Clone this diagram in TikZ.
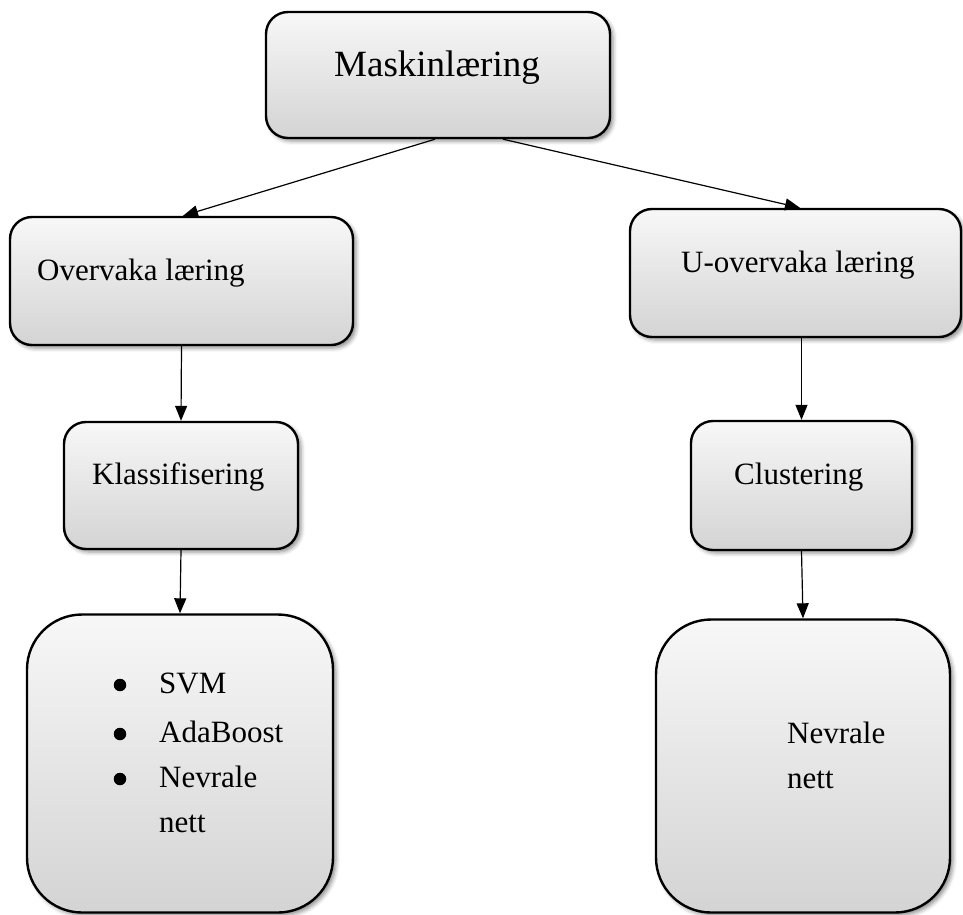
\documentclass[tikz,border=0pt]{standalone}
\usepackage{fontspec}
\setmainfont{Liberation Serif}
\usetikzlibrary{arrows.meta,shadows.blur}
\begin{document}
\begin{tikzpicture}[x=1pt,y=-1pt,
  box/.style={draw=black,line width=2.4pt,rounded corners=22pt,
    top color=white!97!black,bottom color=black!17,
    blur shadow={shadow xshift=3pt,shadow yshift=-3pt,shadow blur radius=4pt,shadow opacity=45},
    inner sep=0pt},
  bigbox/.style={box,rounded corners=55pt},
  txt/.style={font=\fontsize{31}{37}\selectfont,inner sep=0pt,anchor=base west},
  bul/.style={circle,fill=black,inner sep=0pt,minimum size=12.5pt},
  arr/.style={line width=1.2pt,-{Triangle[length=15pt,width=12pt]}}]
\useasboundingbox (0,0) rectangle (963,914);
% boxes
\node[box,minimum width=344pt,minimum height=126pt] (M) at (438,75) {};
\node[box,minimum width=343pt,minimum height=128pt] (O) at (181.5,281) {};
\node[box,minimum width=331pt,minimum height=128pt] (U) at (795.5,273) {};
\node[box,minimum width=234pt,minimum height=127pt] (K) at (181,485.5) {};
\node[box,minimum width=221pt,minimum height=129pt] (C) at (801.5,485.5) {};
\node[bigbox,minimum width=306pt,minimum height=298pt] (BL) at (180,763.5) {};
\node[bigbox,minimum width=294pt,minimum height=293pt] (BR) at (803,766) {};
% texts
\node[font=\fontsize{37}{44}\selectfont,inner sep=0pt,anchor=base] (tM) at (437,76) {Maskinlæring};
\node[txt] (tO) at (37,280) {Overvaka læring};
\node[txt] (tU) at (681,272) {U-overvaka læring};
\node[txt] (tK) at (92,484) {Klassifisering};
\node[txt] (tC) at (734,484) {Clustering};
\node[bul] (b1) at (120,685) {};
\node[bul] (b2) at (120,734) {};
\node[bul] (b3) at (120,779) {};
\node[txt] (l1) at (159,693) {SVM};
\node[txt] (l2) at (159,742) {AdaBoost};
\node[txt] (l3) at (159,787) {Nevrale};
\node[txt] (l4) at (159,832) {nett};
\node[txt] (r1) at (787,743) {Nevrale};
\node[txt] (r2) at (787,788) {nett};
% arrows
\draw[arr] ([xshift=-3pt]M.south) -- ([xshift=1.5pt]O.north);
\draw[arr] ([xshift=65pt]M.south) -- ([xshift=4.5pt]U.north);
\draw[arr] (O.south) -- (K.north);
\draw[arr] (K.south) -- (BL.north);
\draw[arr] (C.north |- U.south) -- (C.north);
\draw[arr] (C.south) -- (BR.north);
\end{tikzpicture}
\end{document}
